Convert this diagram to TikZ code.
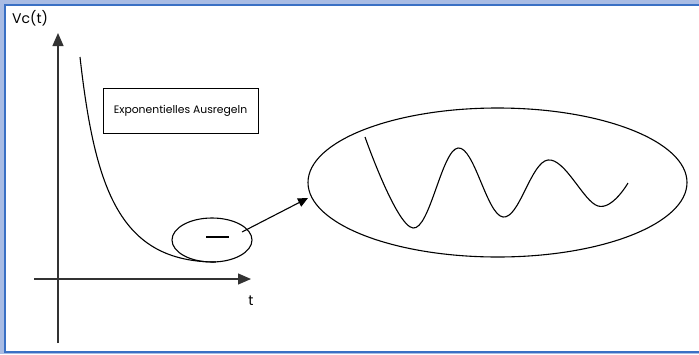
\documentclass[tikz,border=0pt]{standalone}
\usepackage{fontspec}
\setmainfont{Poppins}
\usetikzlibrary{shapes.geometric,arrows.meta}
\definecolor{bandc}{HTML}{A9BCE4}
\definecolor{framec}{HTML}{3A70C4}
\tikzset{
  curve/.style={line width=1.1pt,black},
  axis/.style={line width=1.2pt,black!80,-{Triangle[length=13pt,width=11pt]}},
  lens/.style={ellipse,draw,line width=1.1pt,inner sep=0pt},
  lbl/.style={inner sep=0pt,text=black},
}
\begin{document}
\begin{tikzpicture}[x=1pt,y=-1pt]
\useasboundingbox (0,0) rectangle (699,354);
\fill[bandc] (0,0) rectangle (699,354);
\filldraw[fill=white,draw=framec,line width=2pt] (5,5) rectangle (710,351.5);
% axes
\coordinate (yb) at (58,343);
\coordinate (yt) at (58,33);
\coordinate (xl) at (34,279);
\coordinate (xr) at (251,279);
\draw[axis] (yb) -- (yt);
\draw[axis] (xl) -- (xr);
\node[lbl,anchor=west,font=\fontsize{14}{15}\selectfont] (vc) at (12,18) {Vc(t)};
\node[lbl,font=\fontsize{14}{15}\selectfont] (tl) at (251,301) {t};
% decay curve
\draw[curve] (80,57) .. controls (95,190) and (120,262) .. (216,262);
% label box
\node[draw,line width=1pt,minimum width=155pt,minimum height=45pt,inner sep=0pt,font=\fontsize{10.8}{12}\selectfont] (box) at (180.5,110.5) {Exponentielles Ausregeln};
% small lens
\node[lens,minimum width=80pt,minimum height=44pt] (small) at (212,240) {};
\coordinate (d1) at (206,237);
\coordinate (d2) at (229,237);
\draw[line width=1.2pt] (d1) -- (d2);
% big lens
\node[lens,minimum width=379pt,minimum height=149pt] (big) at (497.5,182.5) {};
\draw[curve] plot[smooth,tension=0.65] coordinates {(365,137) (413,228) (458,148) (503,217) (548,160) (598,206) (628,183)};
% arrow
\coordinate (astart) at (242,232);
\coordinate (aend) at (308,198);
\draw[line width=1.1pt,-{Triangle[length=10pt,width=9pt]}] (astart) -- (aend);
\end{tikzpicture}
\end{document}
